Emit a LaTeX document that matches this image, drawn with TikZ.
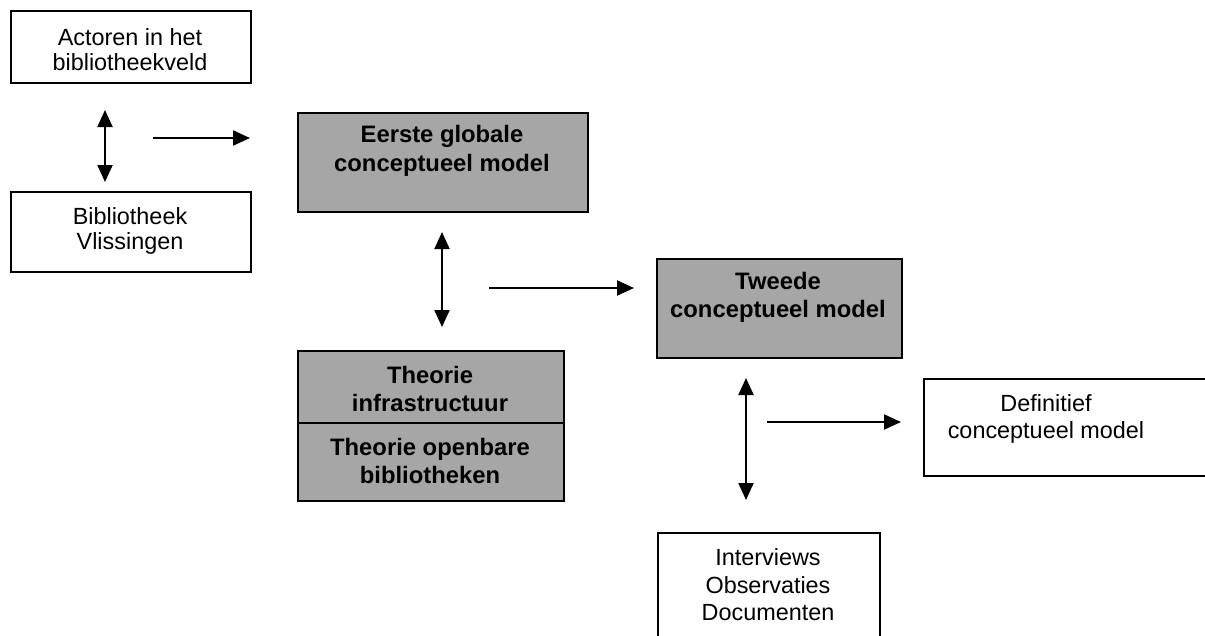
\documentclass[tikz,border=0pt]{standalone}
\usepackage{fontspec}
\setmainfont{Liberation Sans}
\usetikzlibrary{arrows.meta}
\definecolor{boxgray}{RGB}{166,166,166}
\begin{document}
\begin{tikzpicture}[x=1pt,y=-1pt,
  box/.style={draw=black, line width=1.8pt, fill=white, inner sep=0pt, anchor=north west},
  gbox/.style={box, fill=boxgray},
  txt/.style={font=\fontsize{23.4}{27}\selectfont, align=center, inner sep=0pt},
  btxt/.style={align=center, inner sep=0pt, font=\fontsize{23.8}{28.5}\selectfont\bfseries},
  tip/.tip={Triangle[length=17pt,width=15pt]},
  link/.style={line width=2.1pt, -tip},
  dlink/.style={line width=2.1pt, tip-tip}]
\useasboundingbox (0,0) rectangle (1205,635);
\clip (0,0) rectangle (1205,635);

% boxes
\node[box,  minimum width=240, minimum height=72] (actoren) at (10,10) {};
\node[box,  minimum width=240, minimum height=80] (vlissingen) at (10,191) {};
\node[gbox, minimum width=290, minimum height=99] (eerste) at (297,112) {};
\node[gbox, minimum width=266, minimum height=72] (infra) at (297,350) {};
\node[gbox, minimum width=266, minimum height=78] (openbaar) at (297,422) {};
\node[gbox, minimum width=245, minimum height=99] (tweede) at (656,258) {};
\node[box,  minimum width=300, minimum height=97] (definitief) at (923,378) {};
\node[box,  minimum width=222, minimum height=130] (bronnen) at (657,532) {};

% box texts
\node[txt, font=\fontsize{23.4}{25}\selectfont] (actorenT) at (130,50) {Actoren in het\\bibliotheekveld};
\node[txt, font=\fontsize{23.4}{25.5}\selectfont] (vlissingenT) at (130,231) {Bibliotheek\\Vlissingen};
\node[btxt] (eersteT) at (442,151) {Eerste globale\\conceptueel model};
\node[btxt] (infraT) at (430,389) {Theorie\\infrastructuur};
\node[btxt] (openbaarT) at (430,461) {Theorie openbare\\bibliotheken};
\node[btxt] (tweedeT) at (778,297.5) {Tweede\\conceptueel model};
\node[txt] (definitiefT) at (1046,418.5) {Definitief\\conceptueel model};
\node[txt, font=\fontsize{23.4}{27.5}\selectfont] (bronnenT) at (768,585) {Interviews\\Observaties\\Documenten};

% arrow end points
\coordinate (d1a) at (105,110); \coordinate (d1b) at (105,182);
\coordinate (h1a) at (153,138); \coordinate (h1b) at (250,138);
\coordinate (d2a) at (442,232); \coordinate (d2b) at (442,327);
\coordinate (h2a) at (489,288); \coordinate (h2b) at (634,288);
\coordinate (d3a) at (746,378); \coordinate (d3b) at (746,500);
\coordinate (h3a) at (767,422); \coordinate (h3b) at (901,422);

% arrows
\draw[dlink] (d1a) -- (d1b);
\draw[link]  (h1a) -- (h1b);
\draw[dlink] (d2a) -- (d2b);
\draw[link]  (h2a) -- (h2b);
\draw[dlink] (d3a) -- (d3b);
\draw[link]  (h3a) -- (h3b);
\end{tikzpicture}
\end{document}
